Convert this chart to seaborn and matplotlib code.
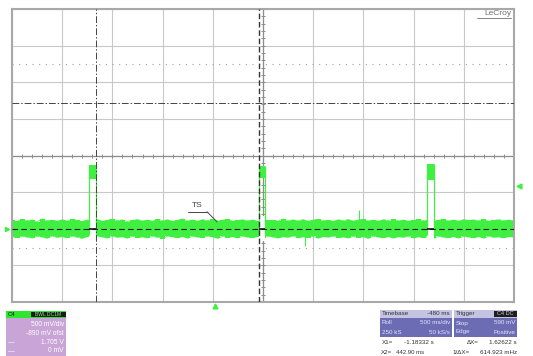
import numpy as np
import matplotlib
matplotlib.use("Agg")
import matplotlib.pyplot as plt
from matplotlib.patches import Rectangle
import seaborn as sns

# ─────────────────────────────────────────────
# SCREEN SETTINGS
# ─────────────────────────────────────────────
T_START, T_END = -2.02, 2.98     # s   (500 ms/div, 10 div)
V_LOW, V_HIGH = -1.11, 2.89      # V   (500 mV/div, 8 div)
T_CENTER, V_CENTER = 0.48, 0.89
SAMPLE_DT = 0.05                 # s between envelope samples

# baseline noise envelope, mV, one value per 50 ms
noise_upper_mv = [10, -5, 22, 4, 15, -8, 28, 6, 12, -2, 18, 0, 25, 9, -6, 14, 3, 20, -4, 11,
                  27, 5, 16, -7, 8, 21, 2, 13, -3, 24, 7, 17, -5, 10, 30, 1, 14, -2, 19, 6,
                  23, 0, 12, 26, -4, 9, 18, 3, 15, -6, 22, 8, 11, -1, 29, 5, 16, 2, 20, -3,
                  13, 25, 4, 10, -5, 18, 7, 21, 0, 14, 27, 3, 12, -2, 19, 6, 24, 1, 15, -4,
                  9, 22, 5, 17, -6, 11, 26, 2, 13, -1, 20, 8, 16, 4, 23, -3, 10, 18, 6, 14, 2]
noise_lower_mv = [-212, -228, -205, -220, -232, -209, -218, -236, -203, -224, -214, -230, -207, -221, -238, -211, -226, -204, -219, -233,
                  -208, -223, -215, -235, -206, -227, -217, -231, -210, -222, -239, -205, -216, -229, -212, -234, -208, -220, -226, -204,
                  -218, -237, -209, -225, -213, -231, -206, -221, -228, -211, -235, -207, -219, -233, -214, -224, -203, -230, -217, -226,
                  -209, -236, -212, -222, -205, -229, -218, -232, -208, -225, -215, -238, -206, -220, -227, -211, -234, -213, -223, -207,
                  -231, -216, -228, -204, -237, -210, -221, -226, -214, -233, -208, -219, -229, -212, -235, -206, -224, -217, -230, -211, -220]

# pulses (s) and the noisy top level (V)
pulse_start = [-1.255, 0.437, 2.113]
pulse_end = [-1.185, 0.497, 2.183]
pulse_top_hi = [0.76, 0.75, 0.77]
pulse_top_lo = [0.57, 0.58, 0.55]

# isolated glitches
spike_t = [0.896, 1.434]
spike_v = [-0.34, 0.14]

BASELINE_V = -0.11
CURSOR_X1 = -1.18332
CURSOR_X2 = 0.4429
CURSOR_H = 1.60
DOTTED_H = [2.14, -0.37]
TRIG_LEVEL_V = 0.48

GREEN = "#40f040"
W, H = 533, 356

sns.set_theme(style="white")
plt.rcParams["font.family"] = ["Liberation Sans", "DejaVu Sans"]

fig = plt.figure(figsize=(W / 100, H / 100), dpi=100)
ax = fig.add_axes([12 / W, 1 - 302 / H, 502 / W, 293 / H])
ax.set_xlim(T_START, T_END)
ax.set_ylim(V_LOW, V_HIGH)

# grid
ax.set_xticks(T_START + 0.5 * np.arange(11))
ax.set_yticks(V_LOW + 0.5 * np.arange(9))
ax.grid(True, color="#c8c8c8", lw=0.8)
ax.tick_params(length=0, labelbottom=False, labelleft=False)
for sp in ax.spines.values():
    sp.set_color("#a8a8a8")
    sp.set_linewidth(1.5)

# centre axes with minor ticks
ax.axhline(V_CENTER, color="#8c8c8c", lw=0.9, zorder=1.5)
ax.axvline(T_CENTER, color="#8c8c8c", lw=0.9, zorder=1.5)
mx = T_START + 0.1 * np.arange(51)
my = V_LOW + 0.1 * np.arange(41)
ax.plot(mx, np.full(len(mx), V_CENTER), ls="none", marker="|", ms=3, mew=0.7, color="#8c8c8c", zorder=1.5)
ax.plot(np.full(len(my), T_CENTER), my, ls="none", marker="_", ms=3, mew=0.7, color="#8c8c8c", zorder=1.5)

# reference lines
for v in DOTTED_H:
    ax.axhline(v, color="#a0a0a0", lw=0.8, linestyle=(0, (1, 5)), zorder=1.6)
ax.axhline(CURSOR_H, color="#444444", lw=0.7, linestyle=(0, (7, 2, 1.5, 2)), zorder=3)

# ─────────────────────────────────────────────
# TRACE
# ─────────────────────────────────────────────
t = T_START + SAMPLE_DT * np.arange(len(noise_upper_mv))
up = BASELINE_V + 0.105 + np.array(noise_upper_mv) / 1000
lo = BASELINE_V + 0.105 + np.array(noise_lower_mv) / 1000
ax.fill_between(t, lo, up, step="mid", color=GREEN, lw=0, zorder=2)
sns.lineplot(x=t, y=up, color=GREEN, lw=0.5, sort=False, estimator=None, ax=ax, zorder=2)
sns.lineplot(x=t, y=lo, color=GREEN, lw=0.5, sort=False, estimator=None, ax=ax, zorder=2)

for s, e, hi, lw_ in zip(pulse_start, pulse_end, pulse_top_hi, pulse_top_lo):
    ax.fill_between([s, e], [-0.28, -0.28], [0.07, 0.07], color="white", lw=0, zorder=2.1)
    ax.fill_between([s, e], [lw_, lw_], [hi, hi], color=GREEN, lw=0, zorder=2.2)
    ax.vlines([s, e], BASELINE_V - 0.08, hi, color=GREEN, lw=0.9, zorder=2.2)
    ax.hlines(BASELINE_V, s, e, color="#111111", lw=1.2, zorder=3)

ax.vlines(spike_t, BASELINE_V, spike_v, color=GREEN, lw=0.8, zorder=2)

ax.axhline(BASELINE_V, color="#111111", lw=0.8, dashes=(5, 3), zorder=3)

# cursors
ax.axvline(CURSOR_X1, color="#444444", lw=0.7, linestyle=(0, (7, 2, 1.5, 2)), zorder=3)
ax.axvline(CURSOR_X2, color="#333333", lw=1.0, linestyle=(0, (4, 2)), zorder=3)

# channel / trigger markers
ax.plot([T_START - 0.05], [BASELINE_V], marker=">", ms=3, color=GREEN, clip_on=False)
ax.plot([T_END + 0.05], [TRIG_LEVEL_V], marker="<", ms=3.5, color=GREEN, clip_on=False)
ax.plot([0.0], [V_LOW - 0.06], marker="^", ms=3.5, color=GREEN, clip_on=False)

# TS annotation
ax.text(-0.177, 0.21, "TS", ha="center", va="center", fontsize=6, color="#444444")
ax.plot([-0.267, -0.078], [0.122, 0.122], color="#444444", lw=0.7)
ax.plot([-0.078, 0.022], [0.122, -0.016], color="#444444", lw=0.7)

# LeCroy logo
ax.text(2.955, 2.875, "LeCroy", ha="right", va="top", fontsize=6, color="#707070")
ax.plot([2.615, 2.955], [2.77, 2.77], color="#707070", lw=0.6)


# ─────────────────────────────────────────────
# INFO BOXES (figure pixels)
# ─────────────────────────────────────────────
def box(x0, y0, x1, y1, color):
    fig.add_artist(Rectangle((x0 / W, 1 - y1 / H), (x1 - x0) / W, (y1 - y0) / H,
                             transform=fig.transFigure, color=color, lw=0))


def txt(x, y, s, ha="left", color="#333333", size=4.5):
    fig.text(x / W, 1 - y / H, s, ha=ha, va="center", fontsize=size, color=color)


# channel C4
box(6, 311, 66, 317.5, "#2ee62e")
box(31, 311.5, 65.5, 317, "#1a1a1a")
txt(8, 314.3, "C4", color="#111111", size=4.3)
txt(48, 314.3, "BWL DC1M", ha="center", color="#7cf07c", size=3.6)
box(6, 317.5, 66, 356, "#c9a4d6")
for y, s in zip([325, 333.5, 342, 350.5], ["500 mV/div", "-890 mV ofst", "1.705 V", "0 mV"]):
    txt(64, y, s, ha="right", color="white", size=4.8)
fig.add_artist(plt.Line2D([8 / W, 14 / W], [1 - 342 / H] * 2, transform=fig.transFigure, color="#e8dcef", lw=0.6))
fig.add_artist(plt.Line2D([8 / W, 14 / W], [1 - 350.5 / H] * 2, transform=fig.transFigure, color="#e8dcef", lw=0.6))

# timebase
box(380, 310, 452, 317.5, "#c4c4e2")
box(380, 317.5, 452, 337, "#6c6cb4")
txt(382, 313.8, "Timebase", color="#333333")
txt(450, 313.8, "-480 ms", ha="right", color="#333333")
txt(382, 323, "Roll", color="#e4e4ff")
txt(450, 323, "500 ms/div", ha="right", color="#e4e4ff")
txt(382, 332, "250 kS", color="#e4e4ff")
txt(450, 332, "50 kS/s", ha="right", color="#e4e4ff")

# trigger
box(454, 310, 517, 317.5, "#c4c4e2")
box(494, 310.5, 516.5, 317, "#1e1e1e")
box(454, 317.5, 517, 337, "#6c6cb4")
txt(456, 313.8, "Trigger", color="#333333")
txt(505, 313.8, "C4 DC", ha="center", color="#d0d0d0", size=4.0)
txt(456, 323, "Stop", color="#e4e4ff")
txt(515, 323, "590 mV", ha="right", color="#e4e4ff")
txt(456, 332, "Edge", color="#e4e4ff")
txt(515, 332, "Positive", ha="right", color="#e4e4ff")

# cursor readouts
txt(382, 342.5, "X1=")
txt(434, 342.5, "-1.18332 s", ha="right")
txt(467, 342.5, "ΔX=")
txt(517, 342.5, "1.62622 s", ha="right")
txt(381, 352.5, "X2=")
txt(424, 352.5, "442.90 ms", ha="right", size=4.3)
txt(452, 352.5, "1/ΔX=")
txt(517, 352.5, "614.923 mHz", ha="right")

fig.savefig("out.png", dpi=100)
